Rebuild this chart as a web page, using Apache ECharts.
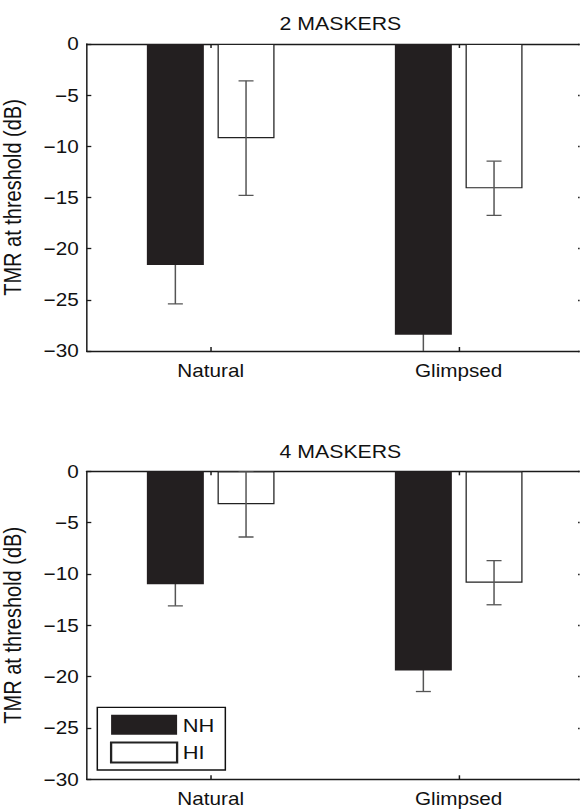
<!DOCTYPE html>
<html>
<head>
<meta charset="utf-8">
<script src="https://cdn.jsdelivr.net/npm/echarts@6/dist/echarts.min.js"></script>
<style>
html,body{margin:0;padding:0;background:#fff;overflow:hidden;width:580px;height:811px;}
#wrap{width:580px;height:811px;overflow:hidden;}
#chart{width:504.35px;height:811px;transform:scaleX(1.15);transform-origin:0 0;}
</style>
</head>
<body>
<div id="wrap"><div id="chart"></div></div>
<script>
// ---- data ----
const categories = ['Natural', 'Glimpsed'];
const seriesNames = ['NH', 'HI'];
const panelTitles = ['2 MASKERS', '4 MASKERS'];
const yTicks = [0, -5, -10, -15, -20, -25, -30];
const yLabel = 'TMR at threshold (dB)';
// 2 maskers
const nh2 = [-21.6, -28.4];
const nh2Err = [3.8, 1.8];
const hi2 = [-9.2, -14.1];
const hi2Err = [5.6, 2.65];
// 4 maskers
const nh4 = [-11.0, -19.4];
const nh4Err = [2.1, 2.05];
const hi4 = [-3.2, -10.85];
const hi4Err = [3.2, 2.15];

// ---- style ----
const S = 1.15; // horizontal stretch of the original figure
const FONT = '"Liberation Sans", Arial, Helvetica, sans-serif';
const NH_COLOR = '#231f20';
const ERR_COLOR = '#555555';
const AXIS_COLOR = '#1a1a1a';
const BAR_W = 57 / S;
const BAR_GAP = 0.24;
const OFFSET = (BAR_W * (1 + BAR_GAP)) / 2;
const CAP = 15 / S;
const gridLeft = 86.7 / S, gridWidth = 496 / S;
const grids = [
  { left: gridLeft, width: gridWidth, top: 44, height: 307, outerBoundsMode: 'none', containLabel: false },
  { left: gridLeft, width: gridWidth, top: 471.3, height: 308, outerBoundsMode: 'none', containLabel: false }
];

const chart = echarts.init(document.getElementById('chart'), null, { renderer: 'svg' });

function errRender(sign) {
  return function (params, api) {
    const ci = api.value(0), m = api.value(1), e = api.value(2);
    const p1 = api.coord([ci, m + e]);
    const p2 = api.coord([ci, m - e]);
    const x = p1[0] + sign * OFFSET;
    const st = { stroke: ERR_COLOR, lineWidth: 1.3 };
    return {
      type: 'group',
      children: [
        { type: 'line', shape: { x1: x, y1: p1[1], x2: x, y2: p2[1] }, style: st },
        { type: 'line', shape: { x1: x - CAP / 2, y1: p1[1], x2: x + CAP / 2, y2: p1[1] }, style: st },
        { type: 'line', shape: { x1: x - CAP / 2, y1: p2[1], x2: x + CAP / 2, y2: p2[1] }, style: st }
      ]
    };
  };
}

const xAxes = [], yAxes = [], series = [], titles = [];
const panels = [
  { nh: nh2, nhE: nh2Err, hi: hi2, hiE: hi2Err },
  { nh: nh4, nhE: nh4Err, hi: hi4, hiE: hi4Err }
];
const titleTops = [9, 437];

panels.forEach((p, g) => {
  const lineStyle = { color: AXIS_COLOR, width: 1.3 };
  xAxes.push({
    type: 'category', gridIndex: g, position: 'bottom', data: categories,
    axisLine: { show: true, onZero: false, lineStyle },
    axisTick: { show: true, inside: true, alignWithLabel: true, length: 4, lineStyle },
    axisLabel: { color: '#111', fontSize: 18, fontFamily: FONT, margin: 10 }
  });
  xAxes.push({
    type: 'category', gridIndex: g, position: 'top', data: categories,
    axisLine: { show: true, onZero: false, lineStyle },
    axisTick: { show: true, inside: true, alignWithLabel: true, length: 4, lineStyle },
    axisLabel: { show: false }
  });
  yAxes.push({
    type: 'value', gridIndex: g, position: 'left', min: -30, max: 0, interval: 5,
    name: yLabel, nameLocation: 'middle', nameGap: 54,
    nameTextStyle: { color: '#111', fontSize: 20, fontFamily: FONT },
    axisLine: { show: true, onZero: false, lineStyle },
    axisTick: { show: true, inside: true, length: 4, lineStyle },
    splitLine: { show: false },
    axisLabel: { color: '#111', fontSize: 18, fontFamily: FONT, margin: 7,
      formatter: v => String(v).replace('-', '\u2212') }
  });
  yAxes.push({
    type: 'value', gridIndex: g, position: 'right', min: -30, max: 0, interval: 5,
    axisLine: { show: true, onZero: false, lineStyle },
    axisTick: { show: true, inside: true, length: 4, lineStyle },
    splitLine: { show: false },
    axisLabel: { show: false }
  });
  titles.push({
    text: panelTitles[g], left: gridLeft + gridWidth / 2, top: titleTops[g], textAlign: 'center',
    textStyle: { color: '#111', fontSize: 18.5, fontWeight: 'normal', fontFamily: FONT }
  });
  const xi = g * 2, yi = g * 2;
  series.push({
    name: 'NH', type: 'bar', xAxisIndex: xi, yAxisIndex: yi, data: p.nh,
    barWidth: BAR_W, barGap: (BAR_GAP * 100) + '%', z: 4,
    itemStyle: { color: NH_COLOR, borderColor: NH_COLOR, borderWidth: 0 }
  });
  series.push({
    name: 'HI', type: 'bar', xAxisIndex: xi, yAxisIndex: yi, data: p.hi,
    barWidth: BAR_W, barGap: (BAR_GAP * 100) + '%', z: 2,
    itemStyle: { color: '#ffffff', borderColor: '#222', borderWidth: 1.1 }
  });
  series.push({
    type: 'custom', xAxisIndex: xi, yAxisIndex: yi, z: 3, clip: true,
    renderItem: errRender(-1), encode: { x: 0, y: 1 },
    data: p.nh.map((v, i) => [i, v, p.nhE[i]])
  });
  series.push({
    type: 'custom', xAxisIndex: xi, yAxisIndex: yi, z: 3, clip: true,
    renderItem: errRender(1), encode: { x: 0, y: 1 },
    data: p.hi.map((v, i) => [i, v, p.hiE[i]])
  });
});

chart.setOption({
  backgroundColor: '#ffffff',
  animation: false,
  title: titles,
  grid: grids,
  xAxis: xAxes,
  yAxis: yAxes,
  legend: {
    data: seriesNames, orient: 'vertical', left: 97.3 / S, top: 707.3,
    icon: 'rect',
    itemWidth: 66 / S, itemHeight: 20, itemGap: 6.7,
    padding: [7.5, 9.5, 6.5, 11],
    borderColor: '#111', borderWidth: 1.3, borderRadius: 0, backgroundColor: '#fff',
    selectedMode: false,
    textStyle: { color: '#111', fontSize: 19, fontFamily: FONT }
  },
  series: series
});
</script>
</body>
</html>
